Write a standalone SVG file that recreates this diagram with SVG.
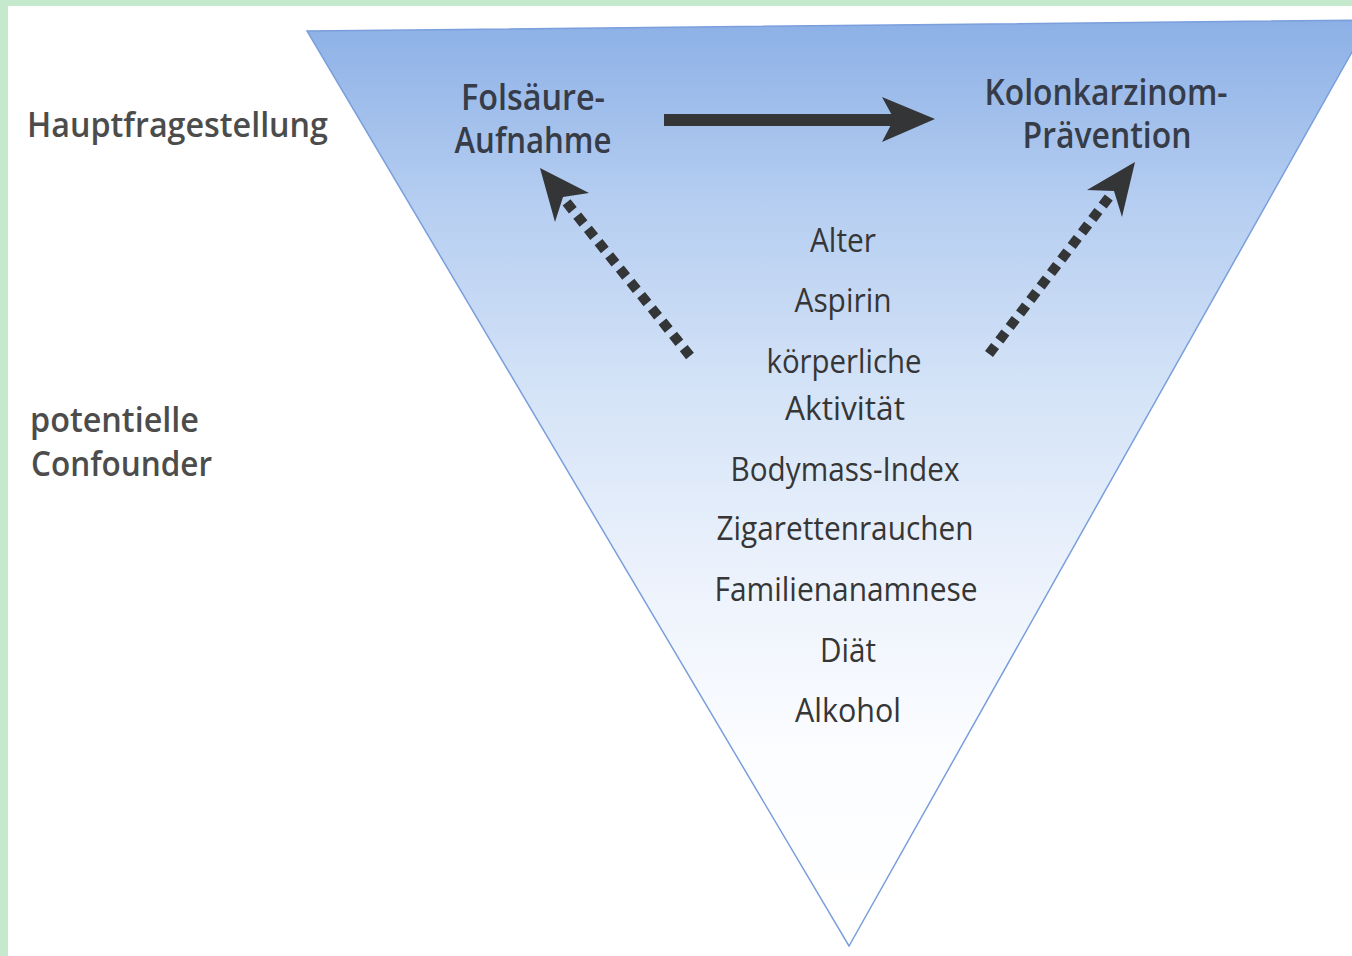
<svg xmlns="http://www.w3.org/2000/svg" width="1352" height="956" viewBox="0 0 1352 956">
<defs>
<linearGradient id="tri" gradientUnits="userSpaceOnUse" x1="0" y1="20" x2="0" y2="946">
<stop offset="0" stop-color="#8cb0e6"/>
<stop offset="0.2" stop-color="#b6cef1"/>
<stop offset="0.4" stop-color="#d4e3f7"/>
<stop offset="0.6" stop-color="#ecf2fc"/>
<stop offset="0.8" stop-color="#fcfdff"/>
<stop offset="1" stop-color="#ffffff"/>
</linearGradient>
<style>
.lbl{font-family:"Open Sans","Noto Sans",sans-serif;font-weight:600;font-size:35px;fill:#4c4c4c}
.hdr{font-family:"Open Sans","Noto Sans",sans-serif;font-weight:600;font-size:36px;fill:#363c48;text-anchor:middle}
.cf{font-family:"Open Sans","Noto Sans",sans-serif;font-weight:500;font-size:33px;fill:#363636;text-anchor:middle}
.dash{stroke:#333537;stroke-width:10;stroke-dasharray:10 7;fill:none}
.solid{stroke:#333537;stroke-width:12;fill:none}
.head{fill:#333537}
</style>
</defs>
<rect x="0" y="0" width="1352" height="956" fill="#ffffff"/>
<rect x="0" y="0" width="1352" height="6" fill="#c5e9cd"/>
<rect x="0" y="0" width="8" height="956" fill="#c5e9cd"/>
<g id="triangle">
<polygon points="307,31 1370,20 849,946" fill="url(#tri)" stroke="#7a9fdc" stroke-width="1.5"/>
</g>
<g id="labels">
<text class="lbl" x="27" y="137" textLength="301" lengthAdjust="spacingAndGlyphs">Hauptfragestellung</text>
<text class="lbl" x="30" y="432" textLength="169" lengthAdjust="spacingAndGlyphs">potentielle</text>
<text class="lbl" x="31" y="476" textLength="181" lengthAdjust="spacingAndGlyphs">Confounder</text>
</g>
<g id="node-folsaeure">
<text class="hdr" x="533" y="110" textLength="144" lengthAdjust="spacingAndGlyphs">Folsäure-</text>
<text class="hdr" x="533" y="153" textLength="157" lengthAdjust="spacingAndGlyphs">Aufnahme</text>
</g>
<g id="node-kolon">
<text class="hdr" x="1106" y="105" textLength="243" lengthAdjust="spacingAndGlyphs">Kolonkarzinom-</text>
<text class="hdr" x="1107" y="148" textLength="169" lengthAdjust="spacingAndGlyphs">Prävention</text>
</g>
<g id="node-confounders">
<text class="cf" x="843" y="252" textLength="66" lengthAdjust="spacingAndGlyphs">Alter</text>
<text class="cf" x="843" y="312" textLength="97" lengthAdjust="spacingAndGlyphs">Aspirin</text>
<text class="cf" x="844" y="373" textLength="155" lengthAdjust="spacingAndGlyphs">körperliche</text>
<text class="cf" x="845" y="420" textLength="120" lengthAdjust="spacingAndGlyphs">Aktivität</text>
<text class="cf" x="845" y="481" textLength="229" lengthAdjust="spacingAndGlyphs">Bodymass-Index</text>
<text class="cf" x="845" y="540" textLength="257" lengthAdjust="spacingAndGlyphs">Zigarettenrauchen</text>
<text class="cf" x="846" y="601" textLength="263" lengthAdjust="spacingAndGlyphs">Familienanamnese</text>
<text class="cf" x="848" y="662" textLength="56" lengthAdjust="spacingAndGlyphs">Diät</text>
<text class="cf" x="848" y="722" textLength="106" lengthAdjust="spacingAndGlyphs">Alkohol</text>
</g>
<g id="connectors">
<line class="solid" x1="664" y1="120" x2="896" y2="120"/>
<polygon class="head" points="935,119 882,97 894,119 882,142"/>
<line class="dash" x1="690" y1="356" x2="563" y2="198"/>
<polygon class="head" points="540,168 589,193 563,197 555,222"/>
<line class="dash" x1="989" y1="354" x2="1113" y2="192"/>
<polygon class="head" points="1135,162 1122,217 1114,191 1087,190"/>
</g>
</svg>
